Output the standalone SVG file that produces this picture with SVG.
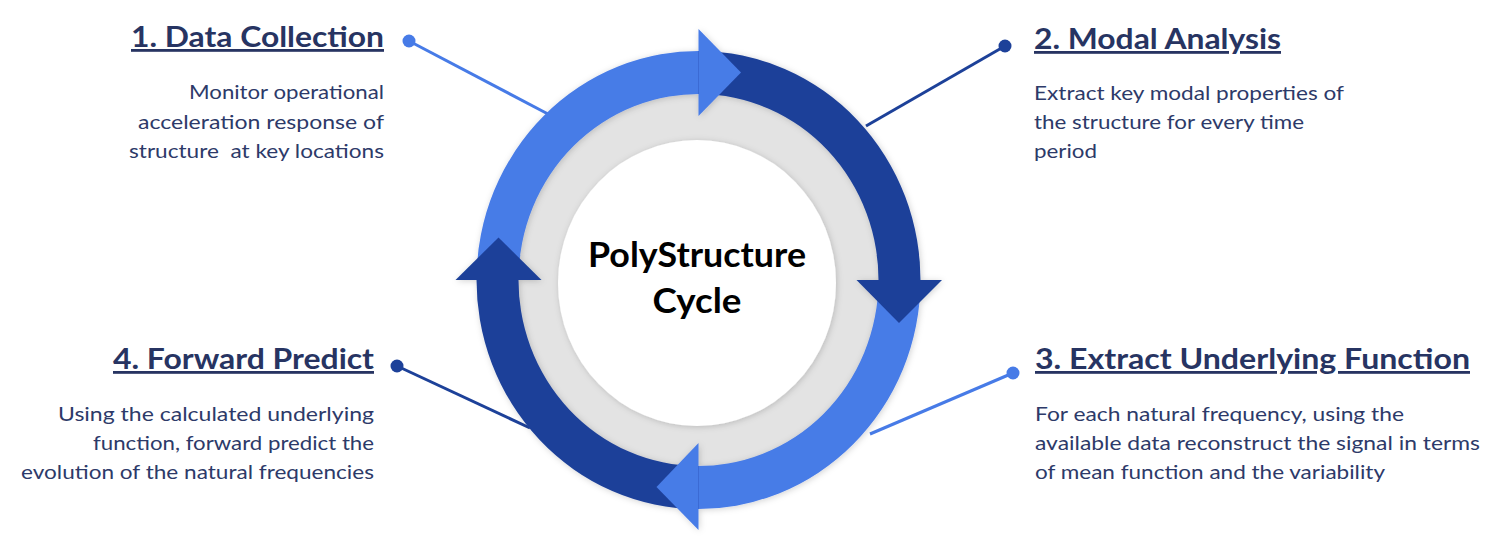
<svg xmlns="http://www.w3.org/2000/svg" width="1506" height="544" viewBox="0 0 1506 544">
<defs>
<style>
.title{font-family:Lato,"Open Sans","Liberation Sans",sans-serif;font-weight:700;font-size:28px;fill:#273462;text-decoration:underline;}
.body{font-family:Lato,"Open Sans","Liberation Sans",sans-serif;font-weight:400;font-size:20px;fill:#2d3a69;}
.center{font-family:Lato,"Open Sans","Liberation Sans",sans-serif;font-weight:700;font-size:34px;fill:#000;}
.light{fill:#477be7;}
.dark{fill:#1d4199;}
.lline{stroke:#477be7;stroke-width:3;fill:none;}
.dline{stroke:#1d4199;stroke-width:3;fill:none;}
</style>
<filter id="sh" x="-20%" y="-20%" width="140%" height="140%">
<feGaussianBlur in="SourceAlpha" stdDeviation="3"/>
<feOffset dx="1" dy="1" result="b"/>
<feFlood flood-color="#000" flood-opacity="0.18"/>
<feComposite in2="b" operator="in"/>
<feMerge><feMergeNode/><feMergeNode in="SourceGraphic"/></feMerge>
</filter>
</defs>
<rect width="1506" height="544" fill="#fff"/>

<g id="connectors">
<line class="lline" x1="409" y1="41" x2="548" y2="114"/>
<circle class="light" cx="409" cy="41" r="6.5"/>
<line class="dline" x1="1005" y1="46" x2="866" y2="126"/>
<circle class="dark" cx="1005" cy="46" r="6.5"/>
<line class="lline" x1="1013" y1="373" x2="870" y2="434"/>
<circle class="light" cx="1013" cy="373" r="6.5"/>
<line class="dline" x1="397" y1="366" x2="530" y2="428"/>
<circle class="dark" cx="397" cy="366" r="6.5"/>
</g>

<g id="cycle">
<ellipse cx="698.5" cy="280" rx="200" ry="206" fill="#e3e3e3"/>
<ellipse cx="697" cy="283" rx="139" ry="143" fill="#fff" filter="url(#sh)"/>
<g filter="url(#sh)">
<path class="light" d="M476.5,280 A222,229 0 0 1 705,51.1 L705,94.1 A180,186 0 0 0 518.5,280 Z"/>
<path class="dark" d="M698.5,51 A222,229 0 0 1 920.4,286 L878.4,286 A180,186 0 0 0 698.5,94 Z"/>
<path class="light" d="M920.5,280 A222,229 0 0 1 692,508.9 L692,465.9 A180,186 0 0 0 878.5,280 Z"/>
<path class="dark" d="M698.5,509 A222,229 0 0 1 476.6,274 L518.6,274 A180,186 0 0 0 698.5,466 Z"/>
<polygon class="light" points="698.5,29 741,72.5 698.5,116"/>
<polygon class="dark" points="856.5,280 942,280 899,323"/>
<polygon class="light" points="698.5,443 698.5,530 656.5,487"/>
<polygon class="dark" points="455.5,280 541.5,280 498.5,237.5"/>
</g>
<text class="center" x="697" y="267" text-anchor="middle" textLength="218" lengthAdjust="spacingAndGlyphs">PolyStructure</text>
<text class="center" x="697" y="313" text-anchor="middle" textLength="89" lengthAdjust="spacingAndGlyphs">Cycle</text>
</g>

<g id="step1">
<text class="title" x="131" y="47" textLength="253" lengthAdjust="spacingAndGlyphs">1. Data Collection</text>
<text class="body" x="189" y="99" textLength="195" lengthAdjust="spacingAndGlyphs">Monitor operational</text>
<text class="body" x="138" y="129" textLength="246" lengthAdjust="spacingAndGlyphs">acceleration response of</text>
<text class="body" x="129" y="158" textLength="255" lengthAdjust="spacingAndGlyphs" xml:space="preserve">structure  at key locations</text>
</g>

<g id="step2">
<text class="title" x="1034" y="49" textLength="247" lengthAdjust="spacingAndGlyphs">2. Modal Analysis</text>
<text class="body" x="1034" y="100" textLength="310" lengthAdjust="spacingAndGlyphs">Extract key modal properties of</text>
<text class="body" x="1034" y="129" textLength="270" lengthAdjust="spacingAndGlyphs">the structure for every time</text>
<text class="body" x="1034" y="158" textLength="63" lengthAdjust="spacingAndGlyphs">period</text>
</g>

<g id="step3">
<text class="title" x="1035" y="369" textLength="435" lengthAdjust="spacingAndGlyphs">3. Extract Underlying Function</text>
<text class="body" x="1035" y="421" textLength="369" lengthAdjust="spacingAndGlyphs">For each natural frequency, using the</text>
<text class="body" x="1035" y="450" textLength="445" lengthAdjust="spacingAndGlyphs">available data reconstruct the signal in terms</text>
<text class="body" x="1035" y="479" textLength="350" lengthAdjust="spacingAndGlyphs">of mean function and the variability</text>
</g>

<g id="step4">
<text class="title" x="113" y="369" textLength="261" lengthAdjust="spacingAndGlyphs">4. Forward Predict</text>
<text class="body" x="58" y="421" textLength="316" lengthAdjust="spacingAndGlyphs">Using the calculated underlying</text>
<text class="body" x="93" y="450" textLength="281" lengthAdjust="spacingAndGlyphs">function, forward predict the</text>
<text class="body" x="21" y="479" textLength="353" lengthAdjust="spacingAndGlyphs">evolution of the natural frequencies</text>
</g>
</svg>
